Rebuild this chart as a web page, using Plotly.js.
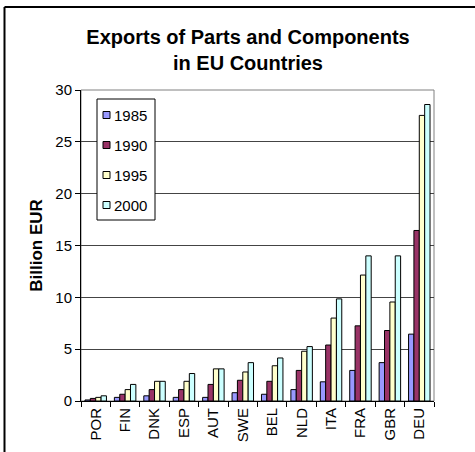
<!DOCTYPE html>
<html>
<head>
<meta charset="utf-8">
<script src="https://cdn.plot.ly/plotly-3.0.1.min.js"></script>
<style>
  html, body { margin: 0; padding: 0; background: #fff; }
  #chart { width: 475px; height: 452px; }
</style>
</head>
<body>
<div id="chart"></div>
<script>
// Exports of parts and components, billion EUR, by country and year
const countries = ['POR', 'FIN', 'DNK', 'ESP', 'AUT', 'SWE', 'BEL', 'NLD', 'ITA', 'FRA', 'GBR', 'DEU'];
const years = ['1985', '1990', '1995', '2000'];
const exports1985 = [0.1, 0.35, 0.5, 0.35, 0.35, 0.8, 0.65, 1.1, 1.85, 2.95, 3.7, 6.45];
const exports1990 = [0.25, 0.65, 1.1, 1.1, 1.6, 2.0, 1.9, 2.95, 5.4, 7.25, 6.8, 16.45];
const exports1995 = [0.35, 1.1, 1.9, 1.9, 3.1, 2.8, 3.4, 4.8, 8.0, 12.15, 9.55, 27.55];
const exports2000 = [0.5, 1.6, 1.9, 2.65, 3.1, 3.7, 4.15, 5.25, 9.85, 14.0, 14.0, 28.6];
const yTicks = [0, 5, 10, 15, 20, 25, 30];

const seriesValues = [exports1985, exports1990, exports1995, exports2000];
const seriesColors = ['#9999FF', '#993366', '#FFFFCC', '#CCFFFF'];

const traces = years.map((yr, i) => ({
  type: 'bar',
  name: yr,
  x: countries,
  y: seriesValues[i],
  marker: { color: seriesColors[i], line: { color: '#000', width: 1 } },
  hoverinfo: 'x+y+name'
}));

const W = 475, H = 452;
const m = { l: 81, r: 41, t: 90, b: 51 };
const pw = W - m.l - m.r, ph = H - m.t - m.b;
// pixel -> paper helpers for the frame, title and compact legend box
const px = v => (v - m.l) / pw;
const py = v => (H - m.b - v) / ph;

const font = 'Liberation Sans, Arial, sans-serif';

// compact boxed legend: small swatch + year label per series
const legendBox = { left: 97, right: 155, top: 99, bottom: 220 };
const legendRow0 = 115, legendStep = 30, swatch = 7;
const legendShapes = [
  { type: 'rect', xref: 'paper', yref: 'paper',
    x0: px(legendBox.left), x1: px(legendBox.right), y0: py(legendBox.bottom), y1: py(legendBox.top),
    fillcolor: '#fff', line: { color: '#000', width: 1 }, layer: 'above' }
].concat(years.map((yr, i) => {
  const cy = legendRow0 + i * legendStep;
  return { type: 'rect', xref: 'paper', yref: 'paper',
    x0: px(103), x1: px(103 + swatch), y0: py(cy + swatch / 2), y1: py(cy - swatch / 2),
    fillcolor: seriesColors[i], line: { color: '#000', width: 1 }, layer: 'above' };
}));
const legendLabels = years.map((yr, i) => ({
  xref: 'paper', yref: 'paper',
  x: px(112), y: py(legendRow0 + i * legendStep),
  xanchor: 'left', yanchor: 'middle',
  text: yr, showarrow: false,
  font: { family: font, size: 15, color: '#000' }
}));

const layout = {
  width: W, height: H,
  margin: m,
  paper_bgcolor: '#fff',
  plot_bgcolor: '#fff',
  font: { family: font, color: '#000', size: 15 },
  title: {
    text: '<b>Exports of Parts and Components<br>in EU Countries</b>',
    font: { family: font, size: 20, color: '#000' },
    x: px(248), xref: 'paper', xanchor: 'center',
    y: 1 - 44 / H, yref: 'container', yanchor: 'middle'
  },
  barmode: 'group',
  bargap: 0.27,
  bargroupgap: 0,
  showlegend: false,
  xaxis: {
    type: 'category',
    tickangle: -90,
    ticks: 'outside', ticklen: 5, tickcolor: '#000', tickwidth: 1,
    tickson: 'boundaries',
    showline: true, linecolor: '#000', linewidth: 1,
    showgrid: false, zeroline: false,
    tickfont: { family: font, size: 15, color: '#000' },
    fixedrange: true
  },
  yaxis: {
    range: [0, 30],
    tickvals: yTicks,
    ticktext: yTicks.map(String),
    ticks: 'outside', ticklen: 5, tickcolor: '#000', tickwidth: 1,
    showline: true, linecolor: '#000', linewidth: 1,
    showgrid: true, gridcolor: '#444', gridwidth: 1,
    zeroline: false,
    tickfont: { family: font, size: 15, color: '#000' },
    title: { text: '<b>Billion EUR</b>', font: { family: font, size: 17, color: '#000' }, standoff: 8 },
    fixedrange: true
  },
  annotations: legendLabels,
  shapes: [
    // plot area border (top and right in grey)
    { type: 'rect', xref: 'paper', yref: 'paper', x0: 0, x1: 1, y0: 0, y1: 1,
      line: { color: '#808080', width: 1 }, layer: 'below' },
    // outer chart frame, left and top edges
    { type: 'line', xref: 'paper', yref: 'paper', x0: px(4.5), x1: px(4.5), y0: py(7), y1: py(460),
      line: { color: '#000', width: 2 } },
    { type: 'line', xref: 'paper', yref: 'paper', x0: px(4.5), x1: px(480), y0: py(7), y1: py(7),
      line: { color: '#000', width: 2 } }
  ].concat(legendShapes)
};

Plotly.newPlot('chart', traces, layout, { displayModeBar: false, staticPlot: true });
</script>
</body>
</html>
